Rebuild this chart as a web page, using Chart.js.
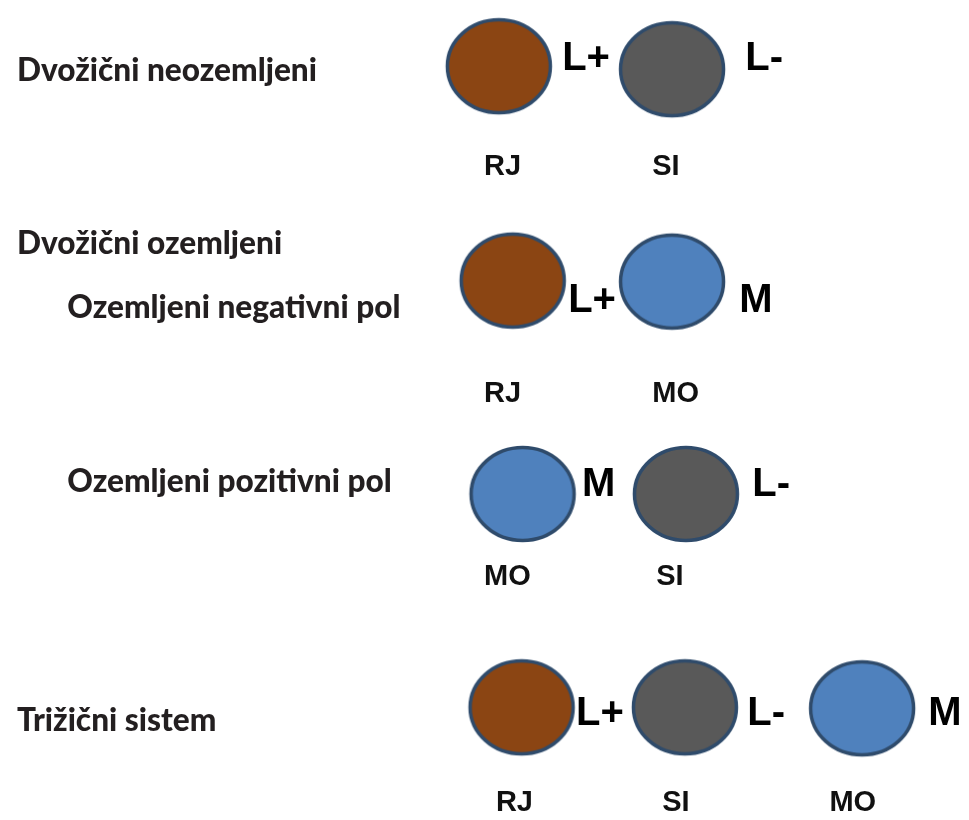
<!DOCTYPE html>
<html>
<head>
<meta charset="utf-8">
<script src="https://cdn.jsdelivr.net/npm/chart.js@4/dist/chart.umd.min.js"></script>
<style>
html,body{margin:0;padding:0;background:#fff;}
#wrap{width:969px;height:820px;}
</style>
</head>
<body>
<div id="wrap"><canvas id="c" width="969" height="820"></canvas></div>
<script>
// Conductor positions (diagram coordinates)
const brownPoints = [{x:499,y:62},{x:513,y:279},{x:522,y:711}];
const grayPoints  = [{x:674,y:65},{x:688,y:495},{x:687,y:711}];
const bluePoints  = [{x:674,y:280},{x:523,y:495},{x:866,y:712}];

// Pole labels next to conductors
const poleLabels = [
  {t:'L+',x:563,y:66},{t:'L-',x:748,y:66},
  {t:'L+',x:569,y:311},{t:'M',x:742,y:311},
  {t:'M',x:583,y:497},{t:'L-',x:755,y:497},
  {t:'L+',x:577,y:729},{t:'L-',x:750,y:729},{t:'M',x:933,y:729}
];
// Colour codes under conductors
const codeLabels = [
  {t:'RJ',x:484,y:172},{t:'SI',x:654,y:172},
  {t:'RJ',x:484,y:402},{t:'MO',x:654,y:402},
  {t:'MO',x:484,y:587},{t:'SI',x:658,y:587},
  {t:'RJ',x:496,y:816},{t:'SI',x:664,y:816},{t:'MO',x:833,y:816}
];
// Row titles
const rowTitles = [
  {t:'Dvožični neozemljeni',x:12,y:77},
  {t:'Dvožični ozemljeni',x:12,y:252},
  {t:'Ozemljeni negativni pol',x:63,y:317},
  {t:'Ozemljeni pozitivni pol',x:63,y:493},
  {t:'Trižični sistem',x:12,y:735}
];

function ellipseImg(fill){
  const cv=document.createElement('canvas');
  cv.width=112;cv.height=102;
  const g=cv.getContext('2d');
  g.beginPath();
  g.ellipse(56,51,51.5,46.5,0,0,Math.PI*2);
  g.fillStyle=fill;g.fill();
  g.lineWidth=3.5;g.strokeStyle='#2f4b6b';g.stroke();
  return cv;
}

const textPlugin={
  id:'texts',
  afterDatasetsDraw(chart){
    const ctx=chart.ctx, xs=chart.scales.x, ys=chart.scales.y;
    ctx.save();
    ctx.textBaseline='alphabetic';ctx.textAlign='left';
    ctx.fillStyle='#000';
    ctx.font='bold 40px "Liberation Sans", Arial, sans-serif';
    poleLabels.forEach(l=>ctx.fillText(l.t,xs.getPixelForValue(l.x),ys.getPixelForValue(l.y)));
    ctx.font='bold 29px "Liberation Sans", Arial, sans-serif';
    ctx.fillStyle='#111';
    codeLabels.forEach(l=>ctx.fillText(l.t,xs.getPixelForValue(l.x),ys.getPixelForValue(l.y)));
    // fit title font so the first title spans about 300px
    ctx.font='900 100px Lato, "Open Sans", sans-serif';
    const w=ctx.measureText(rowTitles[0].t).width;
    const size=Math.round(100*300/w*10)/10;
    ctx.font='900 '+size+'px Lato, "Open Sans", sans-serif';
    ctx.fillStyle='#231f20';
    rowTitles.forEach(l=>ctx.fillText(l.t,xs.getPixelForValue(l.x),ys.getPixelForValue(l.y)));
    ctx.restore();
  }
};

new Chart(document.getElementById('c'),{
  type:'scatter',
  data:{datasets:[
    {label:'RJ',data:brownPoints,pointStyle:ellipseImg('#8b4513')},
    {label:'SI',data:grayPoints,pointStyle:ellipseImg('#595959')},
    {label:'MO',data:bluePoints,pointStyle:ellipseImg('#4f81bd')}
  ]},
  options:{
    responsive:false,animation:false,
    layout:{padding:0},
    plugins:{legend:{display:false},tooltip:{enabled:false}},
    scales:{
      x:{type:'linear',min:0,max:969,display:false},
      y:{type:'linear',min:0,max:820,reverse:true,display:false}
    }
  },
  plugins:[textPlugin]
});
</script>
</body>
</html>
